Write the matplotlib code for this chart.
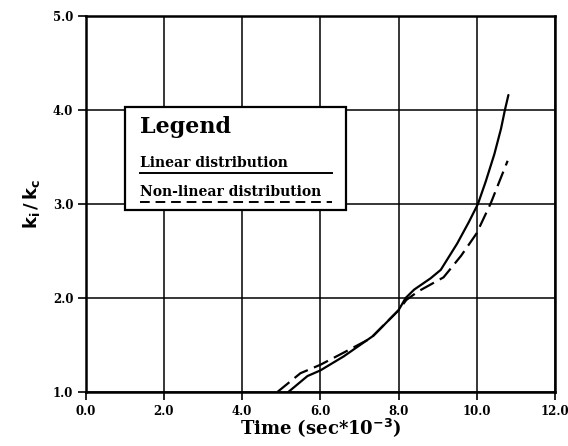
import matplotlib
matplotlib.use("Agg")
import matplotlib.pyplot as plt
from matplotlib.patches import Rectangle

# values
time_linear = [5.18, 5.67, 6.0, 6.6, 7.36, 8.0, 8.18, 8.4, 8.82, 9.08, 9.5, 9.8, 10.03, 10.23, 10.45, 10.62, 10.72, 10.81]
ratio_linear = [1.0, 1.17, 1.23, 1.38, 1.6, 1.87, 2.0, 2.09, 2.21, 2.30, 2.58, 2.81, 3.0, 3.24, 3.53, 3.8, 4.0, 4.16]

time_nonlinear = [4.9, 5.49, 6.0, 6.6, 7.28, 8.0, 8.2, 8.5, 9.15, 9.6, 10.0, 10.1, 10.36, 10.56, 10.79]
ratio_nonlinear = [1.0, 1.2, 1.29, 1.42, 1.57, 1.87, 1.98, 2.07, 2.22, 2.45, 2.69, 2.78, 3.01, 3.22, 3.46]

x_ticks = [0.0, 2.0, 4.0, 6.0, 8.0, 10.0, 12.0]
y_ticks = [1.0, 2.0, 3.0, 4.0, 5.0]

serif = "DejaVu Serif"

fig = plt.figure(figsize=(5.68, 4.46), dpi=100)
ax = fig.add_axes([0.151, 0.121, 0.826, 0.843])

ax.plot(time_linear, ratio_linear, color="black", lw=1.6, solid_capstyle="round")
ax.plot(time_nonlinear, ratio_nonlinear, color="black", lw=1.6, dashes=(7, 3))

ax.set_xlim(0, 12)
ax.set_ylim(1, 5)
ax.set_xticks(x_ticks)
ax.set_yticks(y_ticks)
ax.set_xticklabels(["%.1f" % v for v in x_ticks], fontfamily=serif, fontweight="bold", fontsize=8.5)
ax.set_yticklabels(["%.1f" % v for v in y_ticks], fontfamily=serif, fontweight="bold", fontsize=8.5)
ax.tick_params(direction="out", length=6, width=1.2, pad=3)
ax.grid(True, color="black", lw=1.1)
for s in ax.spines.values():
    s.set_linewidth(1.8)

ax.set_xlabel(r"Time (sec*10$^{\mathbf{-3}}$)", fontfamily=serif, fontweight="bold",
              fontsize=13, labelpad=-1)
ax.set_ylabel(r"$\mathbf{k_i\,/\,k_c}$", fontsize=13, labelpad=8)

# hand drawn legend box
tr = ax.transAxes
ax.add_patch(Rectangle((0.083, 0.484), 0.471, 0.274, transform=tr, facecolor="white",
                       edgecolor="black", lw=1.6, zorder=5))
ax.text(0.115, 0.705, "Legend", transform=tr, fontfamily=serif, fontweight="bold",
        fontsize=16, va="center", zorder=6)
ax.text(0.115, 0.608, "Linear distribution", transform=tr, fontfamily=serif,
        fontweight="bold", fontsize=10, va="center", zorder=6)
ax.plot([0.115, 0.524], [0.582, 0.582], transform=tr, color="black", lw=1.4, zorder=6)
ax.text(0.115, 0.532, "Non-linear distribution", transform=tr, fontfamily=serif,
        fontweight="bold", fontsize=10, va="center", zorder=6)
ax.plot([0.115, 0.524], [0.506, 0.506], transform=tr, color="black", lw=1.4,
        dashes=(5, 3), zorder=6)

fig.savefig("out.png", dpi=100)
